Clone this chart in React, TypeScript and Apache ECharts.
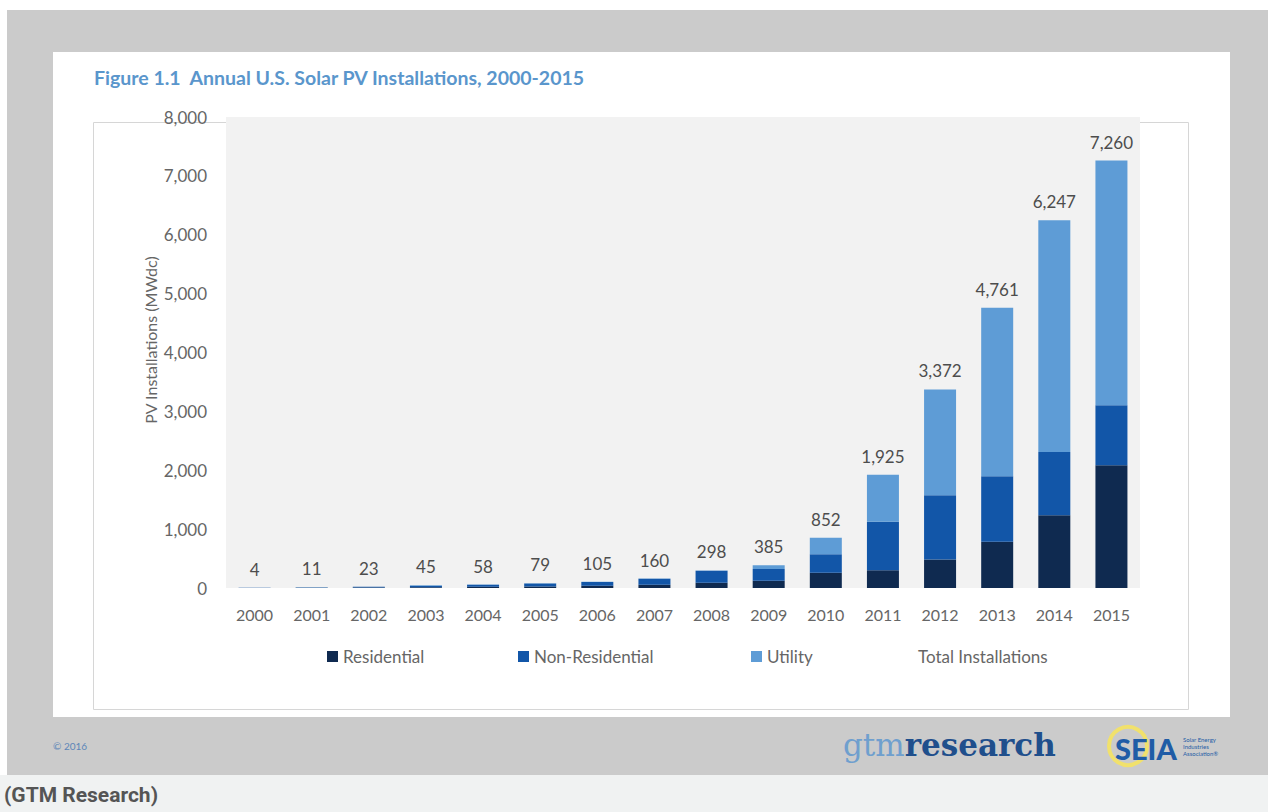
import React, { useEffect, useRef } from "react";
import * as echarts from "echarts";

const years = ["2000","2001","2002","2003","2004","2005","2006","2007","2008","2009","2010","2011","2012","2013","2014","2015"];
const residential = [1, 3, 7, 12, 20, 27, 38, 55, 88, 125, 260, 300, 486, 785, 1237, 2085];
const nonResidential = [2, 6, 13, 27, 37, 51, 66, 101, 205, 198, 313, 826, 1090, 1114, 1073, 1017];
const utility = [1, 2, 3, 6, 1, 1, 1, 4, 5, 62, 279, 799, 1796, 2862, 3937, 4158];
const totals = [4, 11, 23, 45, 58, 79, 105, 160, 298, 385, 852, 1925, 3372, 4761, 6247, 7260];
const yTicks = [0, 1000, 2000, 3000, 4000, 5000, 6000, 7000, 8000];

const FONT = "Lato, 'Open Sans', sans-serif";
const fmt = (v: number) => v.toLocaleString("en-US");

export default function App() {
  const ref = useRef<HTMLDivElement>(null);
  useEffect(() => {
    if (!ref.current) return;
    const chart = echarts.init(ref.current, undefined, { renderer: "svg" });
    const legendBase = {
      top: 648,
      padding: 0,
      itemWidth: 11,
      itemHeight: 11,
      icon: "rect",
      selectedMode: false,
      textStyle: { fontFamily: FONT, fontSize: 17, color: "#666666" },
    };
    chart.setOption({
      animation: false,
      backgroundColor: "#ffffff",
      title: {
        text: "Figure 1.1  Annual U.S. Solar PV Installations, 2000-2015",
        left: 94,
        top: 67,
        padding: 0,
        textStyle: { fontFamily: FONT, fontSize: 19.5, fontWeight: "bold", color: "#5a96cc" },
      },
      legend: [
        { ...legendBase, left: 327, data: ["Residential"] },
        { ...legendBase, left: 518, data: ["Non-Residential"] },
        { ...legendBase, left: 751, data: ["Utility"] },
        { ...legendBase, left: 902, data: [{ name: "Total Installations", itemStyle: { opacity: 0 } }] },
      ],
      grid: {
        left: 226,
        right: 128,
        top: 117,
        bottom: 224,
        show: true,
        backgroundColor: "#f2f2f2",
        borderWidth: 0,
      },
      xAxis: {
        type: "category",
        data: years,
        axisLine: { show: false },
        axisTick: { show: false },
        axisLabel: { fontFamily: FONT, fontSize: 16, color: "#666666", margin: 18 },
      },
      yAxis: {
        type: "value",
        min: yTicks[0],
        max: yTicks[yTicks.length - 1],
        interval: 1000,
        splitLine: { show: false },
        axisLine: { show: false },
        axisTick: { show: false },
        axisLabel: {
          fontFamily: FONT,
          fontSize: 17,
          color: "#666666",
          margin: 19,
          formatter: (v: number) => fmt(v),
        },
      },
      series: [
        {
          name: "Residential",
          type: "bar",
          stack: "pv",
          barWidth: 32,
          data: residential,
          itemStyle: { color: "#0f2a50" },
        },
        {
          name: "Non-Residential",
          type: "bar",
          stack: "pv",
          barWidth: 32,
          data: nonResidential,
          itemStyle: { color: "#1256a8" },
        },
        {
          name: "Utility",
          type: "bar",
          stack: "pv",
          barWidth: 32,
          data: utility,
          itemStyle: { color: "#5e9cd6" },
        },
        {
          name: "Total Installations",
          type: "bar",
          barWidth: 32,
          barGap: "-100%",
          data: totals,
          itemStyle: { color: "rgba(0,0,0,0)" },
          label: {
            show: true,
            position: "top",
            distance: 10,
            fontFamily: FONT,
            fontSize: 17,
            color: "#4d4d4d",
            formatter: (p: any) => fmt(p.value),
          },
          z: 5,
        },
      ],
      graphic: [
        { type: "rect", z: -20, shape: { x: 7, y: 10, width: 1261, height: 765 }, style: { fill: "#cbcbcb" } },
        { type: "rect", z: -20, shape: { x: 0, y: 775, width: 1268, height: 37 }, style: { fill: "#f0f2f2" } },
        { type: "rect", z: -19, shape: { x: 53, y: 52, width: 1177, height: 665 }, style: { fill: "#ffffff" } },
        {
          type: "rect",
          z: -18,
          shape: { x: 93.5, y: 122.5, width: 1095, height: 587 },
          style: { fill: "none", stroke: "#d6d6d6", lineWidth: 1 },
        },
        {
          type: "text",
          x: 150,
          y: 340,
          rotation: Math.PI / 2,
          style: {
            text: "PV Installations (MWdc)",
            fontFamily: FONT,
            fontSize: 16,
            fill: "#666666",
            align: "center",
            verticalAlign: "middle",
          },
        },
        {
          type: "text",
          x: 53,
          y: 746,
          style: { text: "© 2016", fontFamily: FONT, fontSize: 10, fill: "#5b86b8", verticalAlign: "middle" },
        },
        {
          type: "text",
          x: 843,
          y: 745,
          style: {
            text: "{a|gtm}{b|research}",
            verticalAlign: "middle",
            rich: {
              a: { fontFamily: "'DejaVu Serif', serif", fontSize: 31, fontWeight: "normal", fill: "#6f9fce" },
              b: { fontFamily: "'DejaVu Serif', serif", fontSize: 31, fontWeight: "bold", fill: "#1f4f8c" },
            },
          },
        },
        {
          type: "circle",
          shape: { cx: 1128, cy: 746, r: 19 },
          style: { fill: "none", stroke: "#f1e16c", lineWidth: 4 },
        },
        {
          type: "text",
          x: 1115,
          y: 748,
          style: { text: "SEIA", fontFamily: FONT, fontSize: 29, fontWeight: 900, fill: "#1f5ca6", verticalAlign: "middle" },
        },
        {
          type: "text",
          x: 1183,
          y: 746,
          style: {
            text: "Solar Energy\nIndustries\nAssociation®",
            fontFamily: FONT,
            fontSize: 6,
            lineHeight: 7,
            fill: "#1f5ca6",
            verticalAlign: "middle",
          },
        },
        {
          type: "text",
          x: 4,
          y: 795,
          style: {
            text: "(GTM Research)",
            fontFamily: "'Liberation Sans Narrow', 'Roboto', sans-serif",
            fontSize: 21,
            fontWeight: "bold",
            fill: "#555555",
            verticalAlign: "middle",
          },
        },
      ],
    });
    return () => chart.dispose();
  }, []);
  return (
    <div
      ref={ref}
      style={{ position: "absolute", left: 0, top: 0, width: 1268, height: 812 }}
    />
  );
}
